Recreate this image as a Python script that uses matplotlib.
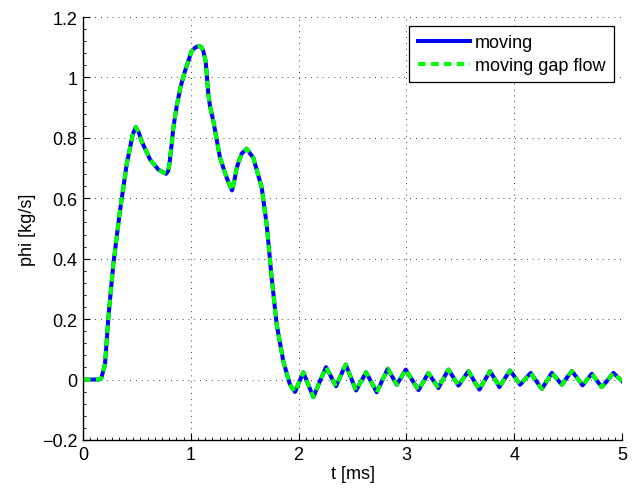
import matplotlib
matplotlib.use('Agg')
import matplotlib.pyplot as plt
from matplotlib.ticker import MultipleLocator

# Massenstrom ueber der Zeit (t in ms, phi in kg/s)
t = [0.0, 0.15, 0.17, 0.204, 0.235, 0.281, 0.343, 0.405, 0.461, 0.489, 0.515,
     0.544, 0.621, 0.699, 0.77, 0.79, 0.801, 0.82, 0.838, 0.869, 0.906, 0.946,
     1.008, 1.045, 1.079, 1.10, 1.116, 1.138, 1.163, 1.178, 1.209, 1.271, 1.333,
     1.382, 1.405, 1.426, 1.472, 1.518, 1.58, 1.658, 1.704, 1.75, 1.797, 1.858,
     1.92, 1.967, 2.005, 2.044, 2.09, 2.137, 2.195, 2.254, 2.30, 2.347, 2.392,
     2.437, 2.485, 2.533, 2.58, 2.626, 2.675, 2.725, 2.776, 2.827, 2.868, 2.91,
     2.952, 2.994, 3.053, 3.112, 3.158, 3.204, 3.25, 3.297, 3.343, 3.39, 3.436,
     3.483, 3.529, 3.575, 3.626, 3.677, 3.726, 3.776, 3.82, 3.863, 3.912, 3.962,
     4.008, 4.055, 4.104, 4.154, 4.205, 4.256, 4.302, 4.349, 4.395, 4.442, 4.488,
     4.535, 4.585, 4.634, 4.677, 4.72, 4.766, 4.813, 4.866, 4.92, 5.0]
phi_moving = [0.0, 0.0, 0.005, 0.05, 0.204, 0.381, 0.558, 0.712, 0.811, 0.836, 0.82,
              0.789, 0.729, 0.695, 0.681, 0.69, 0.712, 0.77, 0.833, 0.905, 0.97, 1.021,
              1.087, 1.10, 1.104, 1.10, 1.087, 1.054, 0.944, 0.905, 0.856, 0.734, 0.668,
              0.626, 0.66, 0.701, 0.748, 0.764, 0.734, 0.635, 0.513, 0.337, 0.182, 0.061,
              -0.017, -0.041, -0.008, 0.024, -0.017, -0.058, -0.008, 0.041, 0.010, -0.022, 0.014,
              0.050, 0.007, -0.036, -0.006, 0.024, -0.009, -0.042, -0.003, 0.036, 0.010, -0.017,
              0.008, 0.033, -0.001, -0.035, -0.007, 0.022, -0.003, -0.028, 0.003, 0.033, 0.007,
              -0.020, 0.004, 0.028, -0.003, -0.033, -0.003, 0.028, 0.002, -0.025, 0.003, 0.030,
              0.007, -0.017, 0.003, 0.022, -0.005, -0.031, -0.005, 0.022, 0.003, -0.017, 0.006,
              0.028, 0.005, -0.019, 0.0, 0.019, -0.003, -0.025, -0.002, 0.022, -0.005]
# gap flow Variante liegt praktisch deckungsgleich
phi_gap_flow = list(phi_moving)

x_ticks = [0, 1, 2, 3, 4, 5]
y_ticks = [-0.2, 0, 0.2, 0.4, 0.6, 0.8, 1.0, 1.2]
y_ticklabels = ['\u22120.2', '0', '0.2', '0.4', '0.6', '0.8', '1', '1.2']

plt.rcParams['font.family'] = ['Liberation Sans', 'DejaVu Sans']
plt.rcParams['font.size'] = 13

fig = plt.figure(figsize=(6.38, 4.89), dpi=100)
ax = fig.add_axes([83 / 638, 48 / 489, 539 / 638, 423 / 489])

ax.plot(t, phi_moving, color='#0000ff', lw=2.9, solid_joinstyle='round', label='moving')
ax.plot(t, phi_gap_flow, color='#00ff00', lw=2.9, dashes=(1.9, 1.3), label='moving gap flow')

ax.set_xticks(x_ticks)
ax.set_xticklabels([str(v) for v in x_ticks])
ax.set_yticks(y_ticks)
ax.set_yticklabels(y_ticklabels)
ax.xaxis.set_minor_locator(MultipleLocator(1 / 15))
ax.yaxis.set_minor_locator(MultipleLocator(0.04))
ax.set_xlim(0, 5)
ax.set_ylim(-0.2, 1.2)

ax.tick_params(which='both', direction='in', top=False, right=False, colors='black')
ax.tick_params(which='major', length=5, width=0.8, pad=4)
ax.tick_params(which='minor', length=2.5, width=0.6)

for s in ['top', 'right']:
    ax.spines[s].set_visible(False)
for s in ['left', 'bottom']:
    ax.spines[s].set_linewidth(1.0)

ax.grid(True, which='major', color='black', lw=0.6, linestyle=(0, (1, 6)))
ax.set_axisbelow(True)

ax.set_xlabel('t [ms]', labelpad=2)
ax.set_ylabel('phi [kg/s]', labelpad=4)

leg = ax.legend(loc='upper right', bbox_to_anchor=(0.985, 0.979), fancybox=False,
                framealpha=1, edgecolor='black', handlelength=2.9, borderpad=0.45,
                labelspacing=0.35, handletextpad=0.3, borderaxespad=0)
leg.get_frame().set_linewidth(0.9)

fig.savefig('out.png', dpi=100)
